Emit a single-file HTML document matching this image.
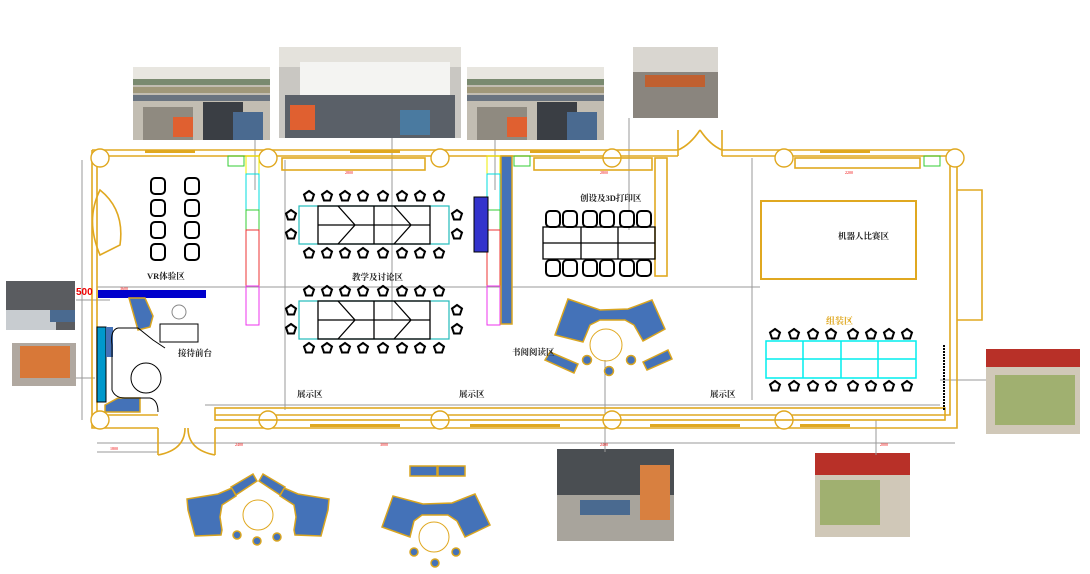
<!DOCTYPE html>
<html><head><meta charset="utf-8"><style>
html,body{margin:0;padding:0;background:#fff;}
svg{display:block;font-family:"Liberation Serif","Noto Serif CJK SC",serif;}
.w{fill:none;stroke:#e0a820;stroke-width:1.6}
.g{stroke:#999;stroke-width:1;fill:none}
.b{fill:#4472b8;stroke:#d9a520;stroke-width:1.5}
.ch{fill:#fff;stroke:#000;stroke-width:2}
.t{font-size:8.5px;fill:#222;font-weight:bold}
</style></head><body>
<svg width="1090" height="574" viewBox="0 0 1090 574">
<defs>
<g id="pent"><polygon points="0,-5 5,-1.5 3,4.5 -3,4.5 -5,-1.5" class="ch"/></g>
<g id="seat"><rect x="-7" y="-8" width="14" height="16" rx="4" class="ch"/></g>
<g id="shelfphoto"><rect width="137" height="73" fill="#c2bdb2"/><rect width="137" height="12" fill="#e8e6e0"/><rect y="12" width="137" height="6" fill="#7a8a70"/><rect y="20" width="137" height="6" fill="#a0987a"/><rect y="28" width="137" height="6" fill="#6a7480"/><rect x="10" y="40" width="50" height="33" fill="#8f8a80"/><rect x="70" y="35" width="40" height="38" fill="#3a3e44"/><rect x="100" y="45" width="30" height="28" fill="#4a6a90"/><rect x="40" y="50" width="20" height="20" fill="#e06030"/></g>
</defs>
<!-- photos -->
<use href="#shelfphoto" x="133" y="67"/>
<use href="#shelfphoto" x="467" y="67"/>
<rect x="279" y="47" width="182" height="91" fill="#c9c7c2"/><rect x="279" y="47" width="182" height="20" fill="#e4e2dc"/><rect x="300" y="62" width="150" height="35" fill="#f4f4f2"/><rect x="285" y="95" width="170" height="43" fill="#5a6068"/><rect x="290" y="105" width="25" height="25" fill="#e06030"/><rect x="400" y="110" width="30" height="25" fill="#4a7aa0"/>
<rect x="633" y="47" width="85" height="71" fill="#8a857e"/><rect x="633" y="47" width="85" height="25" fill="#d9d6d0"/><rect x="645" y="75" width="60" height="12" fill="#c06030"/>
<rect x="6" y="281" width="69" height="49" fill="#5a5c60"/><rect x="6" y="310" width="50" height="20" fill="#c8ccd0"/><rect x="50" y="310" width="25" height="12" fill="#4a6a90"/>
<rect x="12" y="343" width="64" height="43" fill="#b0a8a0"/><rect x="20" y="346" width="50" height="32" fill="#d87838"/>
<rect x="986" y="349" width="94" height="85" fill="#d0c8b8"/><rect x="986" y="349" width="94" height="18" fill="#b83028"/><rect x="995" y="375" width="80" height="50" fill="#a0b070"/>
<rect x="557" y="449" width="117" height="92" fill="#4a4e52"/><rect x="557" y="495" width="117" height="46" fill="#a8a49c"/><rect x="640" y="465" width="30" height="55" fill="#d88040"/><rect x="580" y="500" width="50" height="15" fill="#4a6a90"/>
<rect x="815" y="453" width="95" height="84" fill="#d0c8b8"/><rect x="815" y="453" width="95" height="22" fill="#b83028"/><rect x="820" y="480" width="60" height="45" fill="#a0b070"/>
<!-- connector lines -->
<g class="g"><line x1="255" y1="140" x2="255" y2="190"/><line x1="392" y1="138" x2="392" y2="320"/><line x1="495" y1="140" x2="495" y2="190"/><line x1="629" y1="118" x2="629" y2="230"/>
<line x1="76" y1="300" x2="110" y2="300"/><line x1="76" y1="378" x2="95" y2="378"/><line x1="605" y1="360" x2="605" y2="452"/><line x1="876" y1="420" x2="876" y2="455"/><line x1="940" y1="380" x2="986" y2="380"/>
<line x1="97" y1="287" x2="760" y2="287"/><line x1="205" y1="405" x2="940" y2="405"/><line x1="97" y1="443" x2="955" y2="443"/><line x1="97" y1="452" x2="158" y2="452"/>
<line x1="285" y1="160" x2="285" y2="410"/><line x1="752" y1="158" x2="752" y2="400"/><line x1="82" y1="160" x2="82" y2="420"/></g>
<!-- walls -->
<g class="w">
<path d="M92,150 H678 M722,150 H955 M97,156 H678 M722,156 H950 V415 H215 M158,415 H97 V156 M92,150 V428 H158 M215,428 H957 V150"/>
<path d="M957,190 H982 V320 H957"/><path d="M678,130 V156 M722,130 V156 M700,130 Q690,145 678,150 M700,130 Q710,145 722,150"/>
<path d="M158,428 V455 M215,428 V455 M158,455 Q185,450 185,428 M215,455 Q188,450 188,428"/>
</g>
<g fill="#fff" stroke="#e0a820" stroke-width="1.4">
<circle cx="100" cy="158" r="9"/><circle cx="268" cy="158" r="9"/><circle cx="440" cy="158" r="9"/><circle cx="612" cy="158" r="9"/><circle cx="784" cy="158" r="9"/><circle cx="955" cy="158" r="9"/>
<circle cx="100" cy="420" r="9"/><circle cx="268" cy="420" r="9"/><circle cx="440" cy="420" r="9"/><circle cx="612" cy="420" r="9"/><circle cx="784" cy="420" r="9"/>
</g>
<g fill="#e0a820"><rect x="145" y="150" width="50" height="3"/><rect x="350" y="150" width="50" height="3"/><rect x="530" y="150" width="50" height="3"/><rect x="820" y="150" width="50" height="3"/><rect x="310" y="424" width="90" height="3"/><rect x="470" y="424" width="90" height="3"/><rect x="650" y="424" width="90" height="3"/><rect x="800" y="424" width="50" height="3"/></g>
<g class="w" stroke-width="1"><rect x="282" y="158" width="143" height="12"/><rect x="534" y="158" width="118" height="12"/><rect x="795" y="158" width="125" height="10"/><rect x="215" y="408" width="730" height="12"/>
<rect x="655" y="158" width="12" height="118"/><path d="M100,190 Q125,210 120,245 L100,255 Q85,220 100,190Z"/></g>
<rect x="228" y="156" width="16" height="10" fill="none" stroke="#3c3" /><rect x="514" y="156" width="16" height="10" fill="none" stroke="#3c3"/><rect x="924" y="156" width="16" height="10" fill="none" stroke="#3c3"/>
<!-- shelves -->
<g stroke-width="1" fill="none"><rect x="246" y="156" width="13" height="18" stroke="#ee0"/><rect x="246" y="174" width="13" height="36" stroke="#0dd"/><rect x="246" y="210" width="13" height="20" stroke="#3c3"/><rect x="246" y="230" width="13" height="56" stroke="#e33"/><rect x="246" y="286" width="13" height="39" stroke="#e3e"/>
<rect x="487" y="156" width="13" height="18" stroke="#ee0"/><rect x="487" y="174" width="13" height="36" stroke="#0dd"/><rect x="487" y="210" width="13" height="20" stroke="#3c3"/><rect x="487" y="230" width="13" height="56" stroke="#e33"/><rect x="487" y="286" width="13" height="39" stroke="#e3e"/></g>
<rect x="501" y="156" width="11" height="168" class="b"/>
<rect x="474" y="197" width="14" height="55" fill="#33c" stroke="#000"/>
<!-- VR seats -->
<g><use href="#seat" x="158" y="186"/><use href="#seat" x="192" y="186"/><use href="#seat" x="158" y="208"/><use href="#seat" x="192" y="208"/><use href="#seat" x="158" y="230"/><use href="#seat" x="192" y="230"/><use href="#seat" x="158" y="252"/><use href="#seat" x="192" y="252"/></g>
<!-- teaching tables -->
<g fill="none" stroke="#2bb" stroke-width="1.2"><rect x="299" y="206" width="150" height="38"/><rect x="299" y="301" width="150" height="38"/></g>
<g stroke="#000" fill="none" stroke-width="1.3"><rect x="318" y="206" width="112" height="38"/><path d="M318,225 H430 M374,206 V244 M338,206 L355,225 L338,244 M394,206 L411,225 L394,244"/>
<rect x="318" y="301" width="112" height="38"/><path d="M318,320 H430 M374,301 V339 M338,301 L355,320 L338,339 M394,301 L411,320 L394,339"/></g>
<g id="prow"><use href="#pent" x="309" y="196"/><use href="#pent" x="327" y="196"/><use href="#pent" x="345" y="196"/><use href="#pent" x="363" y="196"/><use href="#pent" x="383" y="196"/><use href="#pent" x="402" y="196"/><use href="#pent" x="420" y="196"/><use href="#pent" x="439" y="196"/></g>
<use href="#prow" y="57"/><use href="#prow" y="95"/><use href="#prow" y="152"/>
<use href="#pent" x="291" y="215"/><use href="#pent" x="291" y="234"/><use href="#pent" x="457" y="215"/><use href="#pent" x="457" y="234"/>
<use href="#pent" x="291" y="310"/><use href="#pent" x="291" y="329"/><use href="#pent" x="457" y="310"/><use href="#pent" x="457" y="329"/>
<!-- 3D area -->
<g stroke="#000" fill="none" stroke-width="1.3"><rect x="543" y="227" width="112" height="32"/><path d="M543,243 H655 M581,227 V259 M618,227 V259"/></g>
<g><use href="#seat" x="553" y="219"/><use href="#seat" x="570" y="219"/><use href="#seat" x="590" y="219"/><use href="#seat" x="607" y="219"/><use href="#seat" x="627" y="219"/><use href="#seat" x="644" y="219"/>
<use href="#seat" x="553" y="268"/><use href="#seat" x="570" y="268"/><use href="#seat" x="590" y="268"/><use href="#seat" x="607" y="268"/><use href="#seat" x="627" y="268"/><use href="#seat" x="644" y="268"/></g>
<!-- robot -->
<rect x="761" y="201" width="155" height="78" fill="none" stroke="#e0a820" stroke-width="2"/>
<!-- assembly -->
<g fill="none" stroke="#0ee" stroke-width="1.5"><rect x="766" y="341" width="150" height="37"/><path d="M766,359 H916 M803,341 V378 M841,341 V378 M878,341 V378"/></g>
<g id="arow"><use href="#pent" x="775" y="334"/><use href="#pent" x="794" y="334"/><use href="#pent" x="813" y="334"/><use href="#pent" x="831" y="334"/><use href="#pent" x="853" y="334"/><use href="#pent" x="871" y="334"/><use href="#pent" x="889" y="334"/><use href="#pent" x="907" y="334"/></g>
<use href="#arow" y="52"/>
<line x1="944" y1="345" x2="944" y2="410" stroke="#000" stroke-width="2" stroke-dasharray="2,1"/>
<!-- reading -->
<path class="b" d="M555,335 L568,299 L600,310 L628,309 L652,300 L665,329 L643,341 L634,325 L625,320 L600,320 L590,325 L583,342 Z"/>
<circle cx="606" cy="345" r="16" fill="none" stroke="#e0a820"/>
<path class="b" d="M545,360 L550,352 L578,364 L574,373 Z"/><path class="b" d="M643,362 L668,350 L672,359 L647,370 Z"/>
<g class="b"><circle cx="587" cy="360" r="4.5"/><circle cx="631" cy="360" r="4.5"/><circle cx="609" cy="371" r="4.5"/></g>
<!-- front desk -->
<rect x="98" y="290" width="108" height="8" fill="#00c"/>
<rect x="97" y="327" width="9" height="75" fill="#09c" stroke="#000"/><rect x="106" y="327" width="7" height="30" fill="#4472b8"/>
<path class="b" d="M129,298 L145,298 L153,316 L150,327 L138,330 Z"/><path class="b" d="M105,405 L118,398 L140,398 L140,412 L105,412Z"/>
<path d="M118,328 Q110,330 112,345 V390 Q115,398 125,398 H140 L150,398 Q158,400 158,412" fill="none" stroke="#000"/>
<path d="M118,328 H138 L153,340 L165,348" fill="none" stroke="#000"/>
<circle cx="146" cy="378" r="15" fill="none" stroke="#000"/>
<rect x="160" y="324" width="38" height="18" fill="none" stroke="#000"/>
<circle cx="179" cy="312" r="7" fill="none" stroke="#888"/>
<!-- bottom clusters -->
<path class="b" d="M187,499 L218,494 L232,488 L236,496 L222,505 L220,517 L222,530 L221,535 L195,536 L188,510Z"/>
<path class="b" d="M329,499 L298,494 L284,488 L280,496 L294,505 L296,517 L294,530 L295,535 L321,536 L328,510Z"/>
<path class="b" d="M231,487 L253,474 L257,481 L236,495Z"/><path class="b" d="M285,487 L263,474 L259,481 L280,495Z"/>
<circle cx="258" cy="515" r="15" fill="none" stroke="#e0a820"/>
<g class="b"><circle cx="237" cy="535" r="4"/><circle cx="257" cy="541" r="4"/><circle cx="277" cy="537" r="4"/></g>
<rect x="410" y="466" width="27" height="10" class="b"/><rect x="438" y="466" width="27" height="10" class="b"/>
<path class="b" d="M382,527 L393,496 L423,504 L452,503 L475,494 L490,525 L465,537 L457,521 L448,515 L422,515 L414,521 L410,537Z"/>
<circle cx="434" cy="537" r="15" fill="none" stroke="#e0a820"/>
<g class="b"><circle cx="414" cy="552" r="4"/><circle cx="435" cy="563" r="4"/><circle cx="456" cy="552" r="4"/></g>
<!-- labels -->
<text x="147" y="279" class="t">VR体验区</text>
<text x="352" y="280" class="t">教学及讨论区</text>
<text x="580" y="201" class="t">创设及3D打印区</text>
<text x="838" y="239" class="t">机器人比赛区</text>
<text x="826" y="324" font-size="9" fill="#e0a820" font-weight="bold">组装区</text>
<text x="178" y="356" class="t">接待前台</text>
<text x="512" y="355" class="t">书阅阅读区</text>
<text x="297" y="397" class="t">展示区</text><text x="459" y="397" class="t">展示区</text><text x="710" y="397" class="t">展示区</text>
<text x="76" y="295" font-size="10" fill="#e00" font-weight="bold" font-family="Liberation Sans">500</text>
<g font-size="4" fill="#e00"><text x="120" y="290">3600</text><text x="345" y="174">2800</text><text x="600" y="174">2800</text><text x="845" y="174">2200</text><text x="235" y="446">2400</text><text x="380" y="446">3000</text><text x="600" y="446">2400</text><text x="880" y="446">2000</text><text x="110" y="450">1800</text></g>
</svg>
</body></html>
